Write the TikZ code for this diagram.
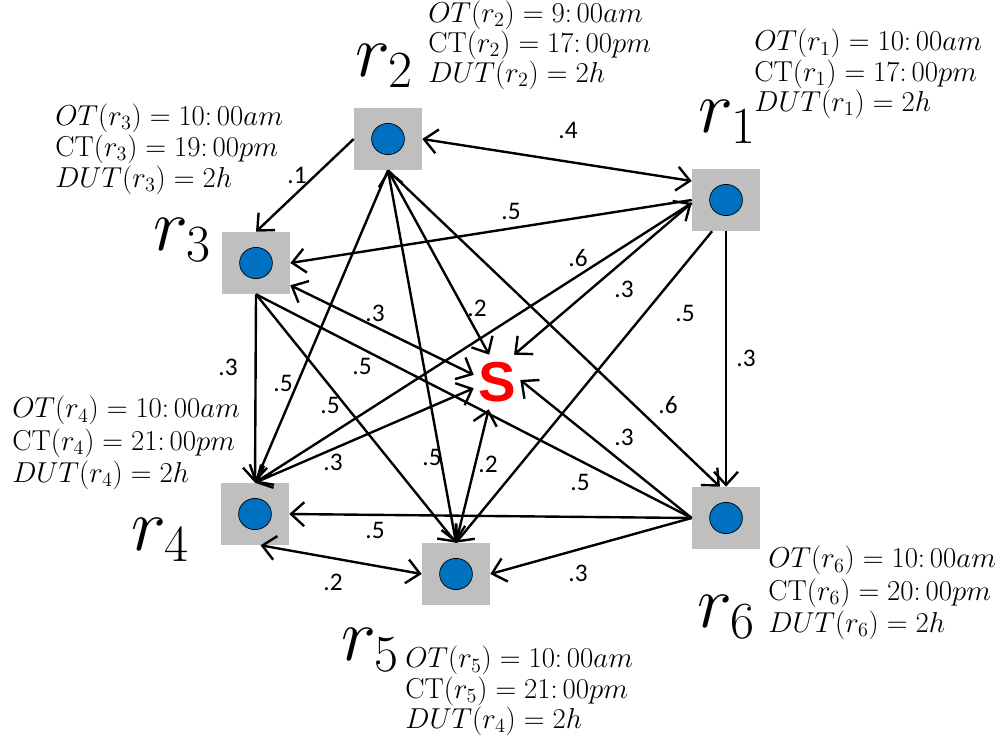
\RequirePackage{fix-cm}
\documentclass[tikz,border=0pt]{standalone}
\usepackage{fontspec}
\newfontfamily\weightfont{Carlito}
\newfontfamily\sinkfont{Liberation Sans}
\usetikzlibrary{arrows.meta}
\definecolor{boxgray}{RGB}{191,191,191}
\definecolor{siteblue}{RGB}{0,112,192}

\begin{document}
\begin{tikzpicture}[
    x=0.025cm, y=-0.025cm,
    site/.style={rectangle, fill=boxgray, minimum width=1.7cm, minimum height=1.55cm, inner sep=0pt,
        path picture={\draw[fill=siteblue, line width=0.5pt] (path picture bounding box.center) ellipse (0.41cm and 0.39cm);}},
    sink/.style={minimum width=1.15cm, minimum height=1.35cm, inner sep=0pt, text=red, font=\sinkfont\bfseries\fontsize{40}{40}\selectfont},
    sitename/.style={inner sep=0pt, font=\fontsize{53}{53}\selectfont},
    info/.style={anchor=west, align=left, inner sep=0pt, font=\fontsize{20.5}{22}\selectfont},
    weight/.style={inner sep=0pt, font=\weightfont\fontsize{18}{18}\selectfont},
    link/.style={line width=1.7pt},
    oneway/.style={link, -{Straight Barb[length=3.3mm, width=6mm]}},
    twoway/.style={link, {Straight Barb[length=3.3mm, width=6mm]}-{Straight Barb[length=3.3mm, width=6mm]}}
]
\useasboundingbox (0,0) rectangle (1005,744);

% Sites
\node[site] (r1) at (726,200) {};
\node[site] (r2) at (388,139) {};
\node[site] (r3) at (256,263) {};
\node[site] (r4) at (255,514) {};
\node[site] (r5) at (456,574) {};
\node[site] (r6) at (726,518) {};
\node[sink] (S) at (497,382) {S};

% Site names
\node[sitename] (n1) at (727,122) {$r_1$};
\node[sitename] (n2) at (384,66) {$r_2$};
\node[sitename] (n3) at (182,240) {$r_3$};
\node[sitename] (n4) at (160,540) {$r_4$};
\node[sitename] (n5) at (370,650) {$r_5$};
\node[sitename] (n6) at (726,617) {$r_6$};

% Opening / closing / duration
\node[info, font=\fontsize{20.5}{21.5}\selectfont] (t1) at (754,74) {$OT(r_1) = 10\colon 00am$\\ $\mathrm{CT}(r_1) = 17\colon 00pm$\\ $DUT(r_1) = 2h$};
\node[info, font=\fontsize{20.5}{20}\selectfont] (t2) at (428,45) {$OT(r_2) = 9\colon 00am$\\ $\mathrm{CT}(r_2) = 17\colon 00pm$\\ $DUT(r_2) = 2h$};
\node[info] (t3) at (55,149) {$OT(r_3) = 10\colon 00am$\\ $\mathrm{CT}(r_3) = 19\colon 00pm$\\ $DUT(r_3) = 2h$};
\node[info, font=\fontsize{20.5}{23}\selectfont] (t4) at (12,443) {$OT(r_4) = 10\colon 00am$\\ $\mathrm{CT}(r_4) = 21\colon 00pm$\\ $DUT(r_4) = 2h$};
\node[info, font=\fontsize{20.5}{21.5}\selectfont] (t5) at (405,691) {$OT(r_5) = 10\colon 00am$\\ $\mathrm{CT}(r_5) = 21\colon 00pm$\\ $DUT(r_4) = 2h$};
\node[info, font=\fontsize{20.5}{23}\selectfont] (t6) at (768,593) {$OT(r_6) = 10\colon 00am$\\ $\mathrm{CT}(r_6) = 20\colon 00pm$\\ $DUT(r_6) = 2h$};

% Links
\draw[twoway] (r2.east) -- (r1.151);
\draw[oneway] (r2.west) -- (r3.north);
\draw[oneway] (r1.west) -- (r3.east);
\draw[twoway] (r1.185) -- (r4.north);
\draw[oneway] (r1.185) -- (S.58);
\draw[oneway] (r1.246) -- (r5.north);
\draw[oneway] (r1.south) -- (r6.north);
\draw[oneway] (r2.south) -- (S.106);
\draw[oneway] (r2.south) -- (r4.north);
\draw[twoway] (r2.south) -- (r5.north);
\draw[oneway] (r2.south) -- (r6.101);
\draw[twoway] (r3.-33) -- (S.163);
\draw[oneway] (r3.south) -- (r4.north);
\draw[oneway] (r3.south) -- (r5.north);
\draw[link] (r3.south) -- (r6.west);
\draw[twoway] (r4.north) -- (S.195);
\draw[twoway] (r4.-80) -- (r5.west);
\draw[oneway] (r5.north) -- (S.253);
\draw[oneway] (r6.west) -- (r4.east);
\draw[oneway] (r6.west) -- (r5.east);
\draw[oneway] (r6.west) -- (S.5);

% Weights
\foreach \w/\x/\y [count=\i] in {.4/568/130, .1/297/175, .5/511/211, .6/578/258, .3/624/289,
    .5/685/313, .3/746/358, .2/477/308, .3/375/313, .3/228/367, .5/283/383, .5/362/366,
    .5/330/405, .5/432/457, .2/488/464, .6/668/405, .3/624/437, .5/580/482, .3/333/462,
    .5/375/530, .2/333/582, .3/578/573}
  \node[weight] (w\i) at (\x,\y) {\w};

\end{tikzpicture}
\end{document}
